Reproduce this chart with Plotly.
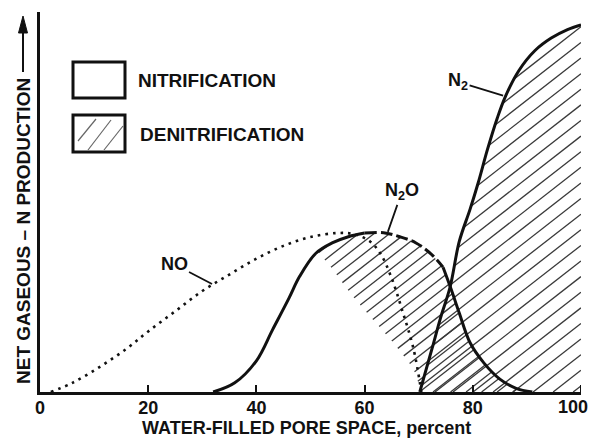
import numpy as np
import plotly.graph_objects as go

# Water-filled pore space (%) vs. relative N gas production (0-100 scale)
no_x = [2, 6, 11, 16, 20, 25, 30, 35, 40, 45, 50, 55, 58, 61, 63, 65, 67, 69, 70.5]
no_y = [0, 2.5, 6.8, 11.8, 16.5, 22, 27.5, 32, 36.3, 39.8, 42.2, 43.3, 43, 41, 37.5, 31, 22, 12, 0]

n2o_x = [32, 36, 40, 43, 46, 48, 51, 54, 57, 60, 63.5, 66.5, 69.5, 72.5, 74.5, 76, 77.5, 79.5, 82, 85, 88, 91]
n2o_y = [0, 2.5, 8.5, 17, 25.5, 31.5, 37.8, 40.6, 42.3, 43.3, 43.4, 42.3, 40.6, 37.3, 34, 28, 21.5, 13.4, 8, 3.5, 1, 0]

n2_x = [70.2, 72.5, 74, 75.8, 77.5, 79.5, 81, 82.7, 84.5, 86, 88.5, 91.5, 94.5, 97.5, 100]
n2_y = [0, 12, 20, 28.6, 41, 49.8, 57, 66, 74.5, 80.4, 87.5, 93, 96.4, 98.7, 100]

# left edge of the denitrification share beneath the N2O curve
den_edge_x = [51.5, 54.2, 56, 57.9, 61.6, 65.3, 69, 70.5]
den_edge_y = [38, 33.2, 29.5, 25.9, 19.6, 13.4, 6.5, 0]

x_ticks = [0, 20, 40, 60, 80, 100]

W, H = 591, 438
ML, MR, MT, MB = 40, 10, 12, 46
PW, PH = W - ML - MR, H - MT - MB
Y_TOP = 103.5
FONT = "Liberation Sans, Arial, sans-serif"
INK = "#111111"


def px(x):
    return (x - ML) / PW


def py(y):
    return (H - MB - y) / PH


def hatch(inside, period, phase, slope, x_lo, x_hi):
    """Diagonal hatch lines clipped to the region given by inside(x, y)."""
    xs_all, ys_all = [], []
    c = x_lo - Y_TOP / slope + phase
    while c < x_hi:
        t = np.arange(c, c + Y_TOP / slope + 0.05, 0.02)
        yy = slope * (t - c)
        m = inside(t, yy)
        if m.any():
            idx = np.flatnonzero(m)
            runs = np.split(idx, np.flatnonzero(np.diff(idx) > 1) + 1)
            for r in runs:
                if len(r) < 2:
                    continue
                xs_all += [t[r[0]], t[r[-1]], None]
                ys_all += [yy[r[0]], yy[r[-1]], None]
        c += period
    return xs_all, ys_all


# 38 deg lines in screen space, converted to data units
slope = 0.78 * (PW / 100) / (PH / Y_TOP)

ex_sorted = np.array(den_edge_x[::-1])
ey_sorted = np.array(den_edge_y[::-1])


def in_den_n2o(x, y):
    top = np.interp(x, n2o_x, n2o_y, left=0, right=0)
    edge = np.interp(y, ey_sorted, ex_sorted)
    return (y >= 0) & (y <= top) & (x >= edge) & (x <= max(n2o_x))


def in_den_n2(x, y):
    top = np.interp(x, n2_x, n2_y, left=0, right=0)
    return (y >= 0) & (y <= top) & (x >= min(n2_x)) & (x <= 100)


fig = go.Figure()

hx, hy = hatch(in_den_n2o, 2.87, 0.4, slope, 45, 95)
fig.add_trace(go.Scatter(x=hx, y=hy, mode="lines", line=dict(color="#3a3a3a", width=1.3),
                         hoverinfo="skip", showlegend=False))
hx, hy = hatch(in_den_n2, 3.7, 1.5, slope, 65, 105)
fig.add_trace(go.Scatter(x=hx, y=hy, mode="lines", line=dict(color="#3a3a3a", width=1.3),
                         hoverinfo="skip", showlegend=False))

# NO (dotted)
fig.add_trace(go.Scatter(x=no_x, y=no_y, mode="lines", line=dict(color=INK, width=2.6, dash="2.6px,5px", shape="spline"),
                         showlegend=False))

# N2O: solid rise, dashed crest, solid tail
i_a = n2o_x.index(60)
i_b = n2o_x.index(74.5)
for lo, hi, dash in [(0, i_a + 1, "solid"), (i_a, i_b + 1, "12px,4px"), (i_b, len(n2o_x), "solid")]:
    fig.add_trace(go.Scatter(x=n2o_x[lo:hi], y=n2o_y[lo:hi], mode="lines",
                             line=dict(color=INK, width=3, dash=dash, shape="spline"), showlegend=False))

# N2
fig.add_trace(go.Scatter(x=n2_x, y=n2_y, mode="lines", line=dict(color=INK, width=3, shape="spline"),
                         showlegend=False))

lab_font = dict(family=FONT, size=18, color=INK, weight="bold")
big_font = dict(family=FONT, size=19, color=INK, weight="bold")
ann = []
# curve labels with leader lines
ann.append(dict(x=31.8, y=29.4, xref="x", yref="y", text="NO", showarrow=True, arrowhead=0, arrowwidth=1.8,
                arrowcolor=INK, ax=-38, ay=-20, font=lab_font))
ann.append(dict(x=64.3, y=43.6, xref="x", yref="y", text="N<sub>2</sub>O", showarrow=True, arrowhead=0,
                arrowwidth=1.8, arrowcolor=INK, ax=14, ay=-40, font=lab_font))
ann.append(dict(x=85.6, y=80.7, xref="x", yref="y", text="N<sub>2</sub>", showarrow=True, arrowhead=0,
                arrowwidth=1.8, arrowcolor=INK, ax=-45, ay=-14, font=lab_font))

# legend
ann.append(dict(x=px(136), y=py(80.5), xref="paper", yref="paper", text="NITRIFICATION", showarrow=False,
                xanchor="left", yanchor="middle", font=big_font))
ann.append(dict(x=px(138), y=py(134.5), xref="paper", yref="paper", text="DENITRIFICATION", showarrow=False,
                xanchor="left", yanchor="middle", font=big_font))

# last tick label pulled inside the page so it is not clipped
ann.append(dict(x=px(590), y=py(407), xref="paper", yref="paper", text=str(x_ticks[-1]), showarrow=False,
                xanchor="right", yanchor="middle", font=lab_font))

# axis titles
ann.append(dict(x=px(306), y=py(428), xref="paper", yref="paper", text="WATER-FILLED PORE SPACE, percent",
                showarrow=False, xanchor="center", yanchor="middle", font=lab_font))
ann.append(dict(x=px(23), y=py(231), xref="paper", yref="paper", text="NET GASEOUS \u2013 N PRODUCTION",
                showarrow=False, textangle=-90, xanchor="center", yanchor="middle", font=big_font))

shapes = []
# upward arrow continuing the y-axis title
shapes.append(dict(type="line", xref="paper", yref="paper", x0=px(23), x1=px(23), y0=py(72), y1=py(30),
                   line=dict(color=INK, width=2)))
shapes.append(dict(type="path", xref="paper", yref="paper",
                   path=f"M {px(18.5)},{py(33)} L {px(27.5)},{py(33)} L {px(23)},{py(16)} Z",
                   fillcolor=INK, line=dict(color=INK, width=1)))
# inside tick at the right end of the x axis
shapes.append(dict(type="line", xref="x", yref="paper", x0=x_ticks[-1], x1=x_ticks[-1], y0=0, y1=7 / PH,
                   line=dict(color=INK, width=2)))
# legend keys
for y0, y1 in [(62, 98), (115, 152)]:
    shapes.append(dict(type="rect", xref="paper", yref="paper", x0=px(73), x1=px(125), y0=py(y1), y1=py(y0),
                       line=dict(color=INK, width=3), fillcolor="white", layer="above"))
for xa, ya, xb, yb in [(78, 141, 96, 119), (88, 150, 111, 120), (104, 150, 123, 126)]:
    shapes.append(dict(type="line", xref="paper", yref="paper", x0=px(xa), y0=py(ya), x1=px(xb), y1=py(yb),
                       line=dict(color="#666666", width=1.2), layer="above"))

fig.update_layout(
    width=W, height=H, margin=dict(l=ML, r=MR, t=MT, b=MB, autoexpand=False),
    paper_bgcolor="white", plot_bgcolor="white",
    showlegend=False, annotations=ann, shapes=shapes,
    xaxis=dict(range=[0, 100], tickvals=x_ticks[:-1], ticktext=[str(v) for v in x_ticks[:-1]], automargin=False,
               showgrid=False, zeroline=False, showline=True, linecolor=INK, linewidth=3,
               ticks="inside", ticklen=7, tickwidth=2, tickcolor=INK, ticklabeloverflow="allow",
               ticklabelstandoff=-3,
               tickfont=dict(family=FONT, size=18, color=INK, weight="bold")),
    yaxis=dict(range=[0, Y_TOP], showgrid=False, zeroline=False, showline=True, linecolor=INK, linewidth=3,
               showticklabels=False, ticks="", automargin=False),
)

fig.write_html("out.html")
